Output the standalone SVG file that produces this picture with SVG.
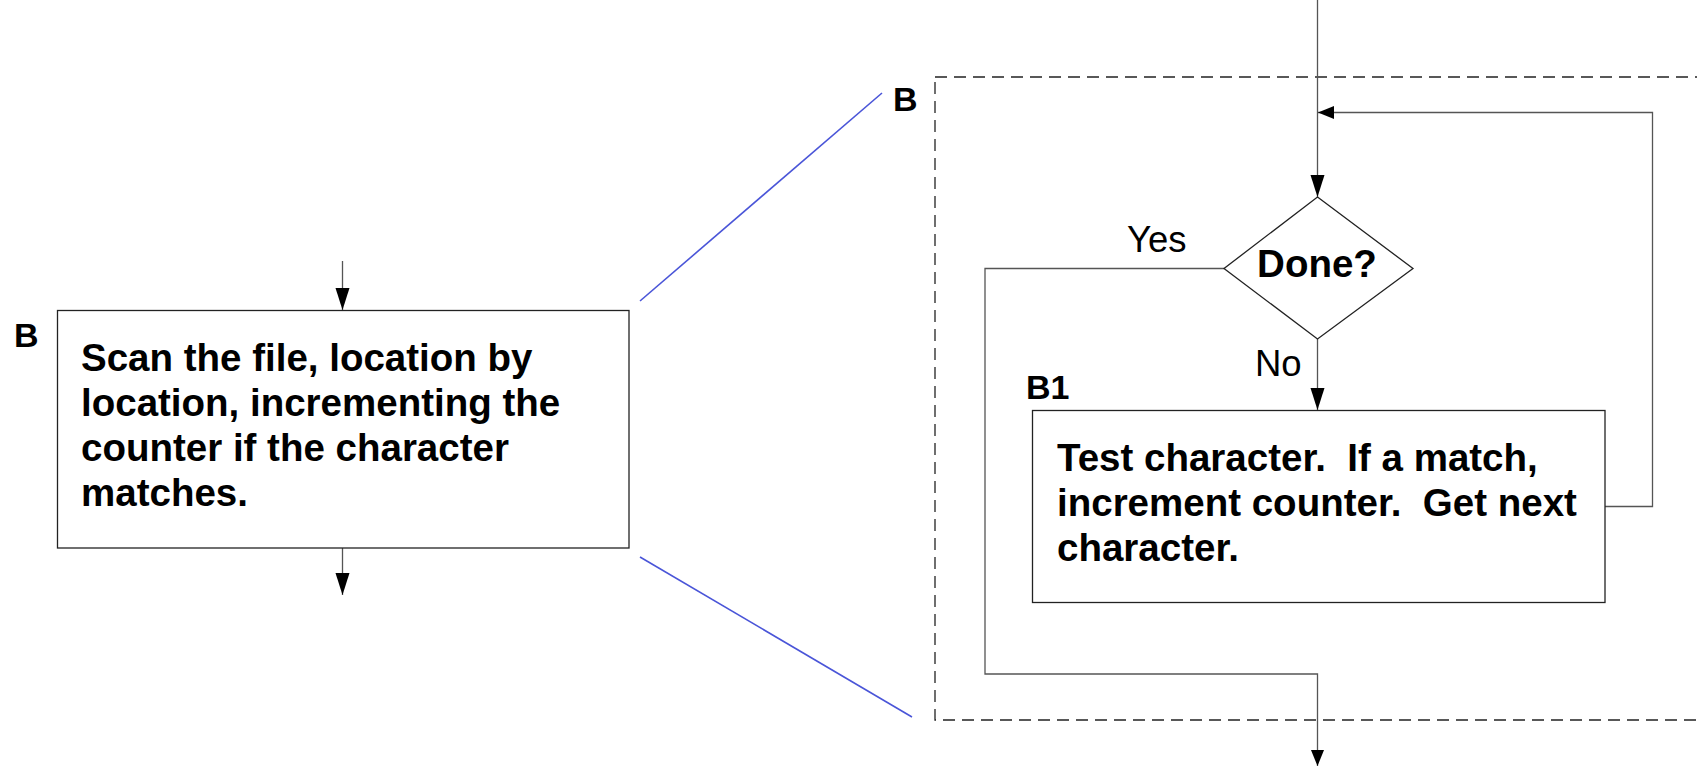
<svg xmlns="http://www.w3.org/2000/svg" width="1697" height="767" viewBox="0 0 1697 767">
<style>
.box{fill:#fff;stroke:#222;stroke-width:1.3}
.ln{fill:none;stroke:#555;stroke-width:1.3}
.blue{fill:none;stroke:#4a55d8;stroke-width:1.6}
.dash{fill:none;stroke:#222;stroke-width:1.3;stroke-dasharray:12 7}
.t{font-family:"Liberation Sans",Arial,sans-serif;font-weight:bold;font-size:38.5px;fill:#000}
.lbl{font-family:"Liberation Sans",Arial,sans-serif;font-weight:bold;font-size:34px;fill:#000}
.yn{font-family:"Liberation Sans",Arial,sans-serif;font-size:36.5px;fill:#000}
</style>
<defs>
<marker id="ah" markerUnits="userSpaceOnUse" markerWidth="24" markerHeight="16" refX="22" refY="7" orient="auto">
<path d="M0,0 L22,7 L0,14 Z" fill="#000"/>
</marker>
<marker id="ahs" markerUnits="userSpaceOnUse" markerWidth="18" markerHeight="14" refX="16" refY="6.5" orient="auto">
<path d="M0,0 L16,6.5 L0,13 Z" fill="#000"/>
</marker>
</defs>

<g id="expansion-lines">
<line class="blue" x1="640" y1="301" x2="882" y2="93"/>
<line class="blue" x1="640" y1="557" x2="912" y2="717"/>
</g>

<g id="group-B-dashed">
<rect class="dash" x="935" y="77" width="800" height="643"/>
<text class="lbl" x="893" y="111">B</text>
</g>

<g id="connectors">
<line class="ln" x1="342.5" y1="261" x2="342.5" y2="310" marker-end="url(#ah)"/>
<line class="ln" x1="342.5" y1="548" x2="342.5" y2="595" marker-end="url(#ah)"/>
<line class="ln" x1="1317.5" y1="0" x2="1317.5" y2="197" marker-end="url(#ah)"/>
<polyline class="ln" points="1605,506.5 1652.5,506.5 1652.5,112.5 1318,112.5" marker-end="url(#ahs)"/>
<line class="ln" x1="1317.5" y1="339" x2="1317.5" y2="410" marker-end="url(#ah)"/>
<polyline class="ln" points="1224,268.5 985,268.5 985,674 1317.5,674 1317.5,766" marker-end="url(#ahs)"/>
<text class="yn" x="1127" y="252">Yes</text>
<text class="yn" x="1255" y="376">No</text>
</g>

<g id="node-B">
<text class="lbl" x="14" y="347">B</text>
<rect class="box" x="57.5" y="310.5" width="571.5" height="237.5"/>
<text class="t" x="81" y="371">Scan the file, location by</text>
<text class="t" x="81" y="416">location, incrementing the</text>
<text class="t" x="81" y="461">counter if the character</text>
<text class="t" x="81" y="506">matches.</text>
</g>

<g id="node-done">
<polygon class="box" points="1317.5,197 1413,268.5 1317.5,339 1224,268.5"/>
<text class="t" x="1317" y="277" text-anchor="middle">Done?</text>
</g>

<g id="node-B1">
<text class="lbl" x="1026" y="399">B1</text>
<rect class="box" x="1032.5" y="410.5" width="572.5" height="192"/>
<text class="t" x="1057" y="471" xml:space="preserve">Test character.  If a match,</text>
<text class="t" x="1057" y="516" xml:space="preserve">increment counter.  Get next</text>
<text class="t" x="1057" y="561">character.</text>
</g>
</svg>
